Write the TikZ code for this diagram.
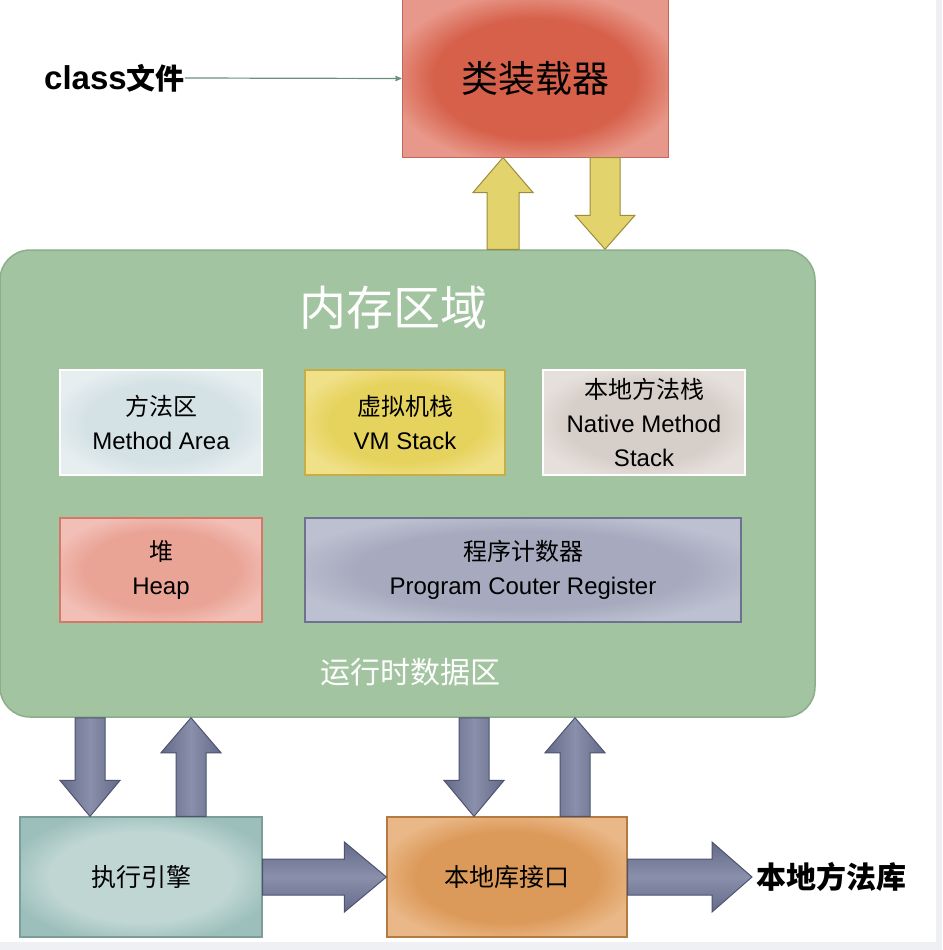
\documentclass[tikz,border=0pt]{standalone}
\usepackage{fontspec}
\setmainfont{Liberation Sans}
\newfontfamily\cjk{Noto Sans CJK SC}
\usetikzlibrary{calc}
\usetikzlibrary{arrows}

\definecolor{loaderin}{HTML}{D6604A}
\definecolor{loaderout}{HTML}{E8988A}
\definecolor{loaderline}{HTML}{C0685A}
\definecolor{memfill}{HTML}{A3C4A0}
\definecolor{memline}{HTML}{8DAE8A}
\definecolor{methodin}{HTML}{D5E2E5}
\definecolor{methodout}{HTML}{E6EEF0}
\definecolor{vmin}{HTML}{E6D35E}
\definecolor{vmout}{HTML}{F0E088}
\definecolor{vmline}{HTML}{C4AE48}
\definecolor{nativein}{HTML}{D6CEC8}
\definecolor{nativeout}{HTML}{E6E0DC}
\definecolor{heapin}{HTML}{E9A496}
\definecolor{heapout}{HTML}{F2BFB6}
\definecolor{heapline}{HTML}{D4786A}
\definecolor{pcin}{HTML}{A7AABE}
\definecolor{pcout}{HTML}{BDC0D0}
\definecolor{pcline}{HTML}{6C7290}
\definecolor{enginein}{HTML}{BFD6D3}
\definecolor{engineout}{HTML}{9DBFBB}
\definecolor{engineline}{HTML}{7C9E9B}
\definecolor{ifin}{HTML}{DC9A5A}
\definecolor{ifout}{HTML}{EAB888}
\definecolor{ifline}{HTML}{B47B40}
\definecolor{yellowfill}{HTML}{E2D36C}
\definecolor{yellowline}{HTML}{9C8C3C}
\definecolor{slatefill}{HTML}{636A89}
\definecolor{slatelight}{HTML}{8A90AB}
\definecolor{slateline}{HTML}{4E5470}
\definecolor{thinarrow}{HTML}{6F8F7D}
\definecolor{pagegray}{HTML}{EEF0F3}

% box glow: name, centre colour, edge colour
\newcommand{\glow}[3]{\pgfdeclareradialshading{#1}{\pgfpoint{0bp}{0bp}}%
  {color(0bp)=(#2); color(19bp)=(#2); color(28bp)=(#3); color(50bp)=(#3)}}
\glow{loaderglow}{loaderin}{loaderout}
\glow{methodglow}{methodin}{methodout}
\glow{vmglow}{vmin}{vmout}
\glow{nativeglow}{nativein}{nativeout}
\glow{heapglow}{heapin}{heapout}
\glow{pcglow}{pcin}{pcout}
\glow{engineglow}{enginein}{engineout}
\glow{ifglow}{ifin}{ifout}

% fat block arrow: style, from, to, shaft half width, head half width, head length
\newcommand{\fatarrow}[6]{%
  \path[#1] let \p1=(#2), \p2=(#3),
    \n1={veclen(\x2-\x1,\y2-\y1)}, \n2={atan2(\y2-\y1,\x2-\x1)} in
    ($(\p1)+({\n2+90}:#4pt)$) -- ++({\n2}:{\n1*1pt-#6pt}) -- ++({\n2+90}:{#5pt-#4pt})
    -- (\p2) -- ($(\p2)+({\n2+180}:#6pt)+({\n2-90}:#5pt)$)
    -- ++({\n2+90}:{#5pt-#4pt}) -- ++({\n2+180}:{\n1*1pt-#6pt}) -- cycle;
}

\tikzset{
  box/.style={draw, rectangle, inner sep=0pt, align=center},
  cjkfont/.style={font={\cjk\fontsize{#1}{#1}\selectfont}},
  innerfont/.style={font={\fontsize{24}{34}\selectfont}},
  loaderbox/.style={box, minimum width=266pt, minimum height=157pt, draw=loaderline,
    line width=1pt, shading=loaderglow, cjkfont=37},
  membox/.style={box, minimum width=815pt, minimum height=467pt, rounded corners=30pt,
    fill=memfill, draw=memline, line width=1.5pt},
  methodbox/.style={box, minimum width=202pt, minimum height=105pt, draw=white,
    line width=2.5pt, shading=methodglow, innerfont},
  vmbox/.style={box, minimum width=200pt, minimum height=105pt, draw=vmline,
    line width=1.2pt, shading=vmglow, innerfont},
  nativebox/.style={box, minimum width=202pt, minimum height=105pt, draw=white,
    line width=2.5pt, shading=nativeglow, innerfont},
  heapbox/.style={box, minimum width=202pt, minimum height=104pt, draw=heapline,
    line width=1.2pt, shading=heapglow, innerfont},
  pcbox/.style={box, minimum width=436pt, minimum height=104pt, draw=pcline,
    line width=1.2pt, shading=pcglow, innerfont},
  enginebox/.style={box, minimum width=242pt, minimum height=120pt, draw=engineline,
    line width=1.2pt, shading=engineglow, cjkfont=25},
  ifbox/.style={box, minimum width=240pt, minimum height=120pt, draw=ifline,
    line width=1.2pt, shading=ifglow, cjkfont=25},
  whitetitle/.style={text=white, inner sep=0pt},
  yellowarrow/.style={fill=yellowfill, draw=yellowline, line width=1pt},
  slatev/.style={draw=slateline, line width=1pt, left color=slatefill,
    right color=slatefill, middle color=slatelight},
  slateh/.style={draw=slateline, line width=1pt, top color=slatefill,
    bottom color=slatefill, middle color=slatelight},
}

\begin{document}
\begin{tikzpicture}[x=1pt,y=-1pt]
\useasboundingbox (0,0) rectangle (942,950);
\fill[pagegray] (0,0) rectangle (942,950);
\fill[white] (0,0) rectangle (936,942);

% runtime data area
\node[membox] (memory) at (407.5,483.5) {};
\node[whitetitle, cjkfont=47] (memtitle) at (393,308) {内存区域};
\node[whitetitle, cjkfont=30] (rttitle) at (410,672) {运行时数据区};
\node[methodbox] (methodarea) at (161,422.5) {{\cjk 方法区}\\Method Area};
\node[vmbox] (vmstack) at (405,422.5) {{\cjk 虚拟机栈}\\VM Stack};
\node[nativebox] (nativestack) at (644,422.5) {{\cjk 本地方法栈}\\Native Method\\Stack};
\node[heapbox] (heap) at (161,570) {{\cjk 堆}\\Heap};
\node[pcbox] (pcreg) at (523,570) {{\cjk 程序计数器}\\Program Couter Register};

% class loader
\node[loaderbox] (loader) at (535,78.5) {类装载器};
\node[anchor=west, inner sep=0pt, font={\bfseries\fontsize{33}{36}\selectfont}]
  (classfile) at (44,78) {class{\cjk\fontsize{29}{32}\selectfont 文件}};
\draw[thinarrow, line width=1.2pt, ->, >=stealth'] (classfile.east) -- (loader.west);

\coordinate (ldup) at ($(loader.south)+(-32,0)$);
\coordinate (lddown) at ($(loader.south)+(70,0)$);
\fatarrow{yellowarrow}{ldup |- memory.north}{ldup}{16}{30}{35}
\fatarrow{yellowarrow}{lddown}{lddown |- memory.north}{15}{30}{34}

% engine and native interface
\node[enginebox] (engine) at (141,877) {执行引擎};
\node[ifbox] (nativeif) at (507,877) {本地库接口};
\node[anchor=west, inner sep=4pt, font={\cjk\bfseries\fontsize{30}{32}\selectfont}]
  (nativelib) at (752,877) {本地方法库};

\coordinate (engdown) at ($(engine.north)+(-51,0)$);
\coordinate (engup) at ($(engine.north)+(50,0)$);
\coordinate (ifdown) at ($(nativeif.north)+(-33,0)$);
\coordinate (ifup) at ($(nativeif.north)+(68,0)$);
\fatarrow{slatev}{engdown |- memory.south}{engdown}{15}{30}{36}
\fatarrow{slatev}{engup}{engup |- memory.south}{15}{30}{35}
\fatarrow{slatev}{ifdown |- memory.south}{ifdown}{15}{30}{36}
\fatarrow{slatev}{ifup}{ifup |- memory.south}{15}{30}{35}
\fatarrow{slateh}{engine.east}{nativeif.west}{18}{35}{42}
\fatarrow{slateh}{nativeif.east}{nativelib.west}{18}{35}{40}
\end{tikzpicture}
\end{document}
